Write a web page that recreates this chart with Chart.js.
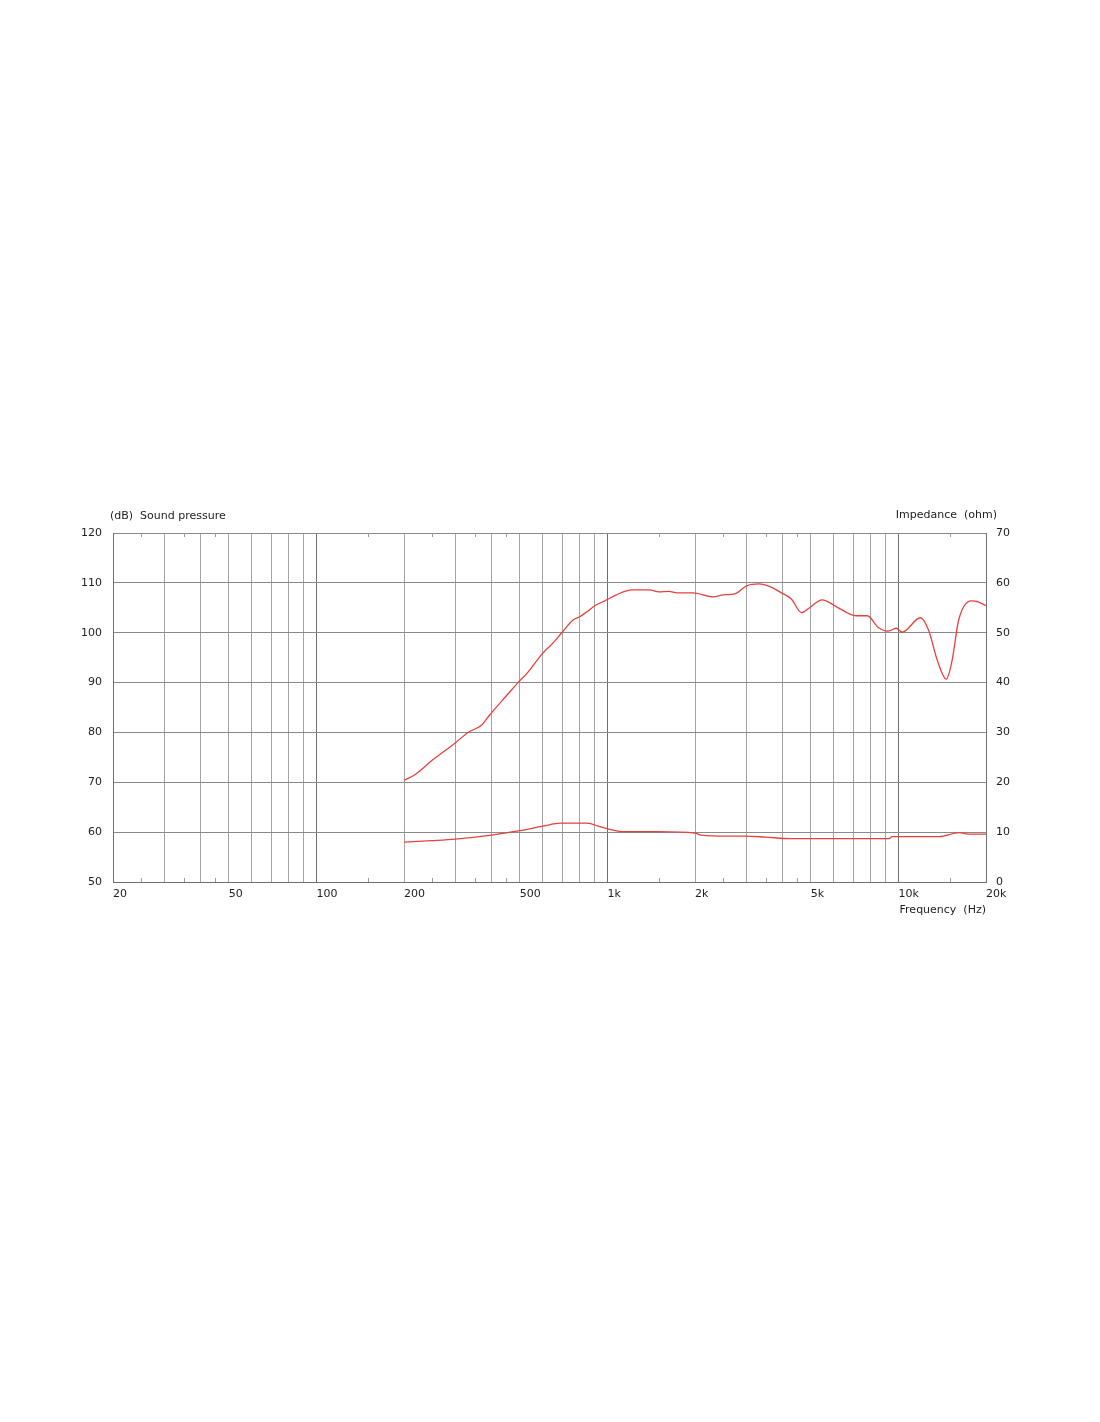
<!DOCTYPE html>
<html>
<head>
<meta charset="utf-8">
<title>Frequency response</title>
<script src="https://cdn.jsdelivr.net/npm/chart.js@4/dist/chart.umd.min.js"></script>
<style>
  html, body { margin: 0; padding: 0; background: #fff; }
  body { width: 1100px; height: 1422px; position: relative; }
  #wrap { position: absolute; left: 0; top: 490px; width: 1100px; height: 440px; }
</style>
</head>
<body>
<div id="wrap"><canvas id="fr"></canvas></div>
<script>
// sound pressure (dB)
const splFreq = [200, 218, 251, 300, 332, 370, 394, 452, 493, 530, 600, 650, 697, 764, 804, 850, 905, 980,
  1074, 1212, 1393, 1504, 1625, 1739, 1970, 2311, 2496, 2740, 3007, 3318, 3640, 3966, 4280, 4654, 4950,
  5465, 6131, 7140, 7820, 8512, 9188, 9840, 10300, 11900, 12700, 13600, 14600, 15300, 16100, 17800, 18800, 20000];
const splDb = [70.4, 71.5, 74.5, 77.9, 80.0, 81.5, 83.5, 87.5, 90.0, 91.9, 95.9, 97.9, 100.0, 102.6, 103.2, 104.2, 105.4, 106.4,
  107.6, 108.6, 108.6, 108.2, 108.3, 108.0, 108.0, 107.2, 107.6, 107.8, 109.4, 109.8, 109.2, 108.0, 106.8, 104.0, 105.0,
  106.6, 105.2, 103.4, 103.4, 101.1, 100.3, 100.9, 100.1, 103.0, 100.5, 94.5, 90.7, 94.5, 102.5, 106.4, 106.2, 105.4];

// impedance (ohm)
const impFreq = [200, 250, 300, 400, 500, 600, 689, 850, 943, 1045, 1130, 1500, 2000, 2100, 2590, 3000, 3500,
  4280, 5800, 9300, 9500, 13800, 16200, 17400, 20000];
const impOhm = [8.0, 8.3, 8.6, 9.4, 10.3, 11.2, 11.8, 11.8, 11.1, 10.4, 10.1, 10.1, 9.8, 9.4, 9.2, 9.2, 9.0,
  8.7, 8.7, 8.7, 9.1, 9.1, 9.9, 9.6, 9.6];

// x axis: grid lines, labels, small ticks
const gridFreq = [20, 30, 40, 50, 60, 70, 80, 90, 100, 200, 300, 400, 500, 600, 700, 800, 900, 1000,
  2000, 3000, 4000, 5000, 6000, 7000, 8000, 9000, 10000, 20000];
const labelFreq = [20, 50, 100, 200, 500, 1000, 2000, 5000, 10000, 20000];
const labelText = ['20', '50', '100', '200', '500', '1k', '2k', '5k', '10k', '20k'];
const minorFreq = [25, 35, 45, 150, 250, 350, 450, 1500, 2500, 3500, 4500, 15000];

const FONT = '"DejaVu Sans", Verdana, sans-serif';
const RED = '#e8403c';

const toPoints = (xs, ys) => xs.map((x, i) => ({ x, y: ys[i] }));

const extras = {
  id: 'extras',
  afterDraw(chart) {
    const { ctx, chartArea: a, scales } = chart;
    ctx.save();
    // small ticks at top and bottom
    ctx.strokeStyle = '#9a9a9a';
    ctx.lineWidth = 1;
    minorFreq.forEach(f => {
      const x = Math.round(scales.x.getPixelForValue(f)) + 0.5;
      ctx.beginPath();
      ctx.moveTo(x, a.top);
      ctx.lineTo(x, a.top + 4);
      ctx.moveTo(x, a.bottom);
      ctx.lineTo(x, a.bottom - 4);
      ctx.stroke();
    });
    // axis titles
    ctx.font = '11px ' + FONT;
    ctx.fillStyle = '#222';
    ctx.textBaseline = 'middle';
    ctx.textAlign = 'left';
    ctx.fillText('(dB)  Sound pressure', a.left - 3, a.top - 17);
    ctx.textAlign = 'right';
    ctx.fillText('Impedance  (ohm)', a.right + 11, a.top - 18);
    ctx.fillText('Frequency  (Hz)', a.right, a.bottom + 28);
    ctx.restore();
  }
};

const tickFont = { family: FONT, size: 11 };

const ctx = document.getElementById('fr').getContext('2d');
new Chart(ctx, {
  type: 'line',
  data: {
    datasets: [{
      label: 'Sound pressure',
      data: toPoints(splFreq, splDb),
      yAxisID: 'y',
      borderColor: RED,
      borderWidth: 1.3,
      pointRadius: 0,
      cubicInterpolationMode: 'monotone',
      fill: false
    }, {
      label: 'Impedance',
      data: toPoints(impFreq, impOhm),
      yAxisID: 'y2',
      borderColor: RED,
      borderWidth: 1.3,
      pointRadius: 0,
      cubicInterpolationMode: 'monotone',
      fill: false
    }]
  },
  options: {
    responsive: true,
    maintainAspectRatio: false,
    animation: false,
    layout: { padding: { top: 43, left: 0, right: 0, bottom: 0 } },
    plugins: {
      legend: { display: false },
      tooltip: { enabled: false }
    },
    scales: {
      x: {
        type: 'logarithmic',
        min: 20,
        max: 20000,
        afterBuildTicks: s => { s.ticks = gridFreq.map(v => ({ value: v })); },
        afterFit: s => { s.height = 48; },
        grid: {
          drawTicks: false,
          color: c => {
            const v = c.tick && c.tick.value;
            if (v === 100 || v === 1000 || v === 10000) return '#6e6e6e';
            return '#a4a4a4';
          }
        },
        border: { color: '#6e6e6e' },
        ticks: {
          autoSkip: false,
          maxRotation: 0,
          align: 'start',
          padding: 6,
          color: '#222',
          font: tickFont,
          callback: v => {
            const i = labelFreq.indexOf(v);
            return i >= 0 ? labelText[i] : '';
          }
        }
      },
      y: {
        position: 'left',
        min: 50,
        max: 120,
        afterFit: s => { s.width = 113; },
        grid: { drawTicks: false, color: '#8a8a8a' },
        border: { color: '#6e6e6e' },
        ticks: {
          stepSize: 10,
          padding: 11,
          color: '#222',
          font: tickFont
        }
      },
      y2: {
        position: 'right',
        min: 0,
        max: 70,
        afterFit: s => { s.width = 114; },
        grid: { display: false, drawTicks: false },
        border: { color: '#6e6e6e' },
        ticks: {
          stepSize: 10,
          padding: 10,
          color: '#222',
          font: tickFont
        }
      }
    }
  },
  plugins: [extras]
});
</script>
</body>
</html>
